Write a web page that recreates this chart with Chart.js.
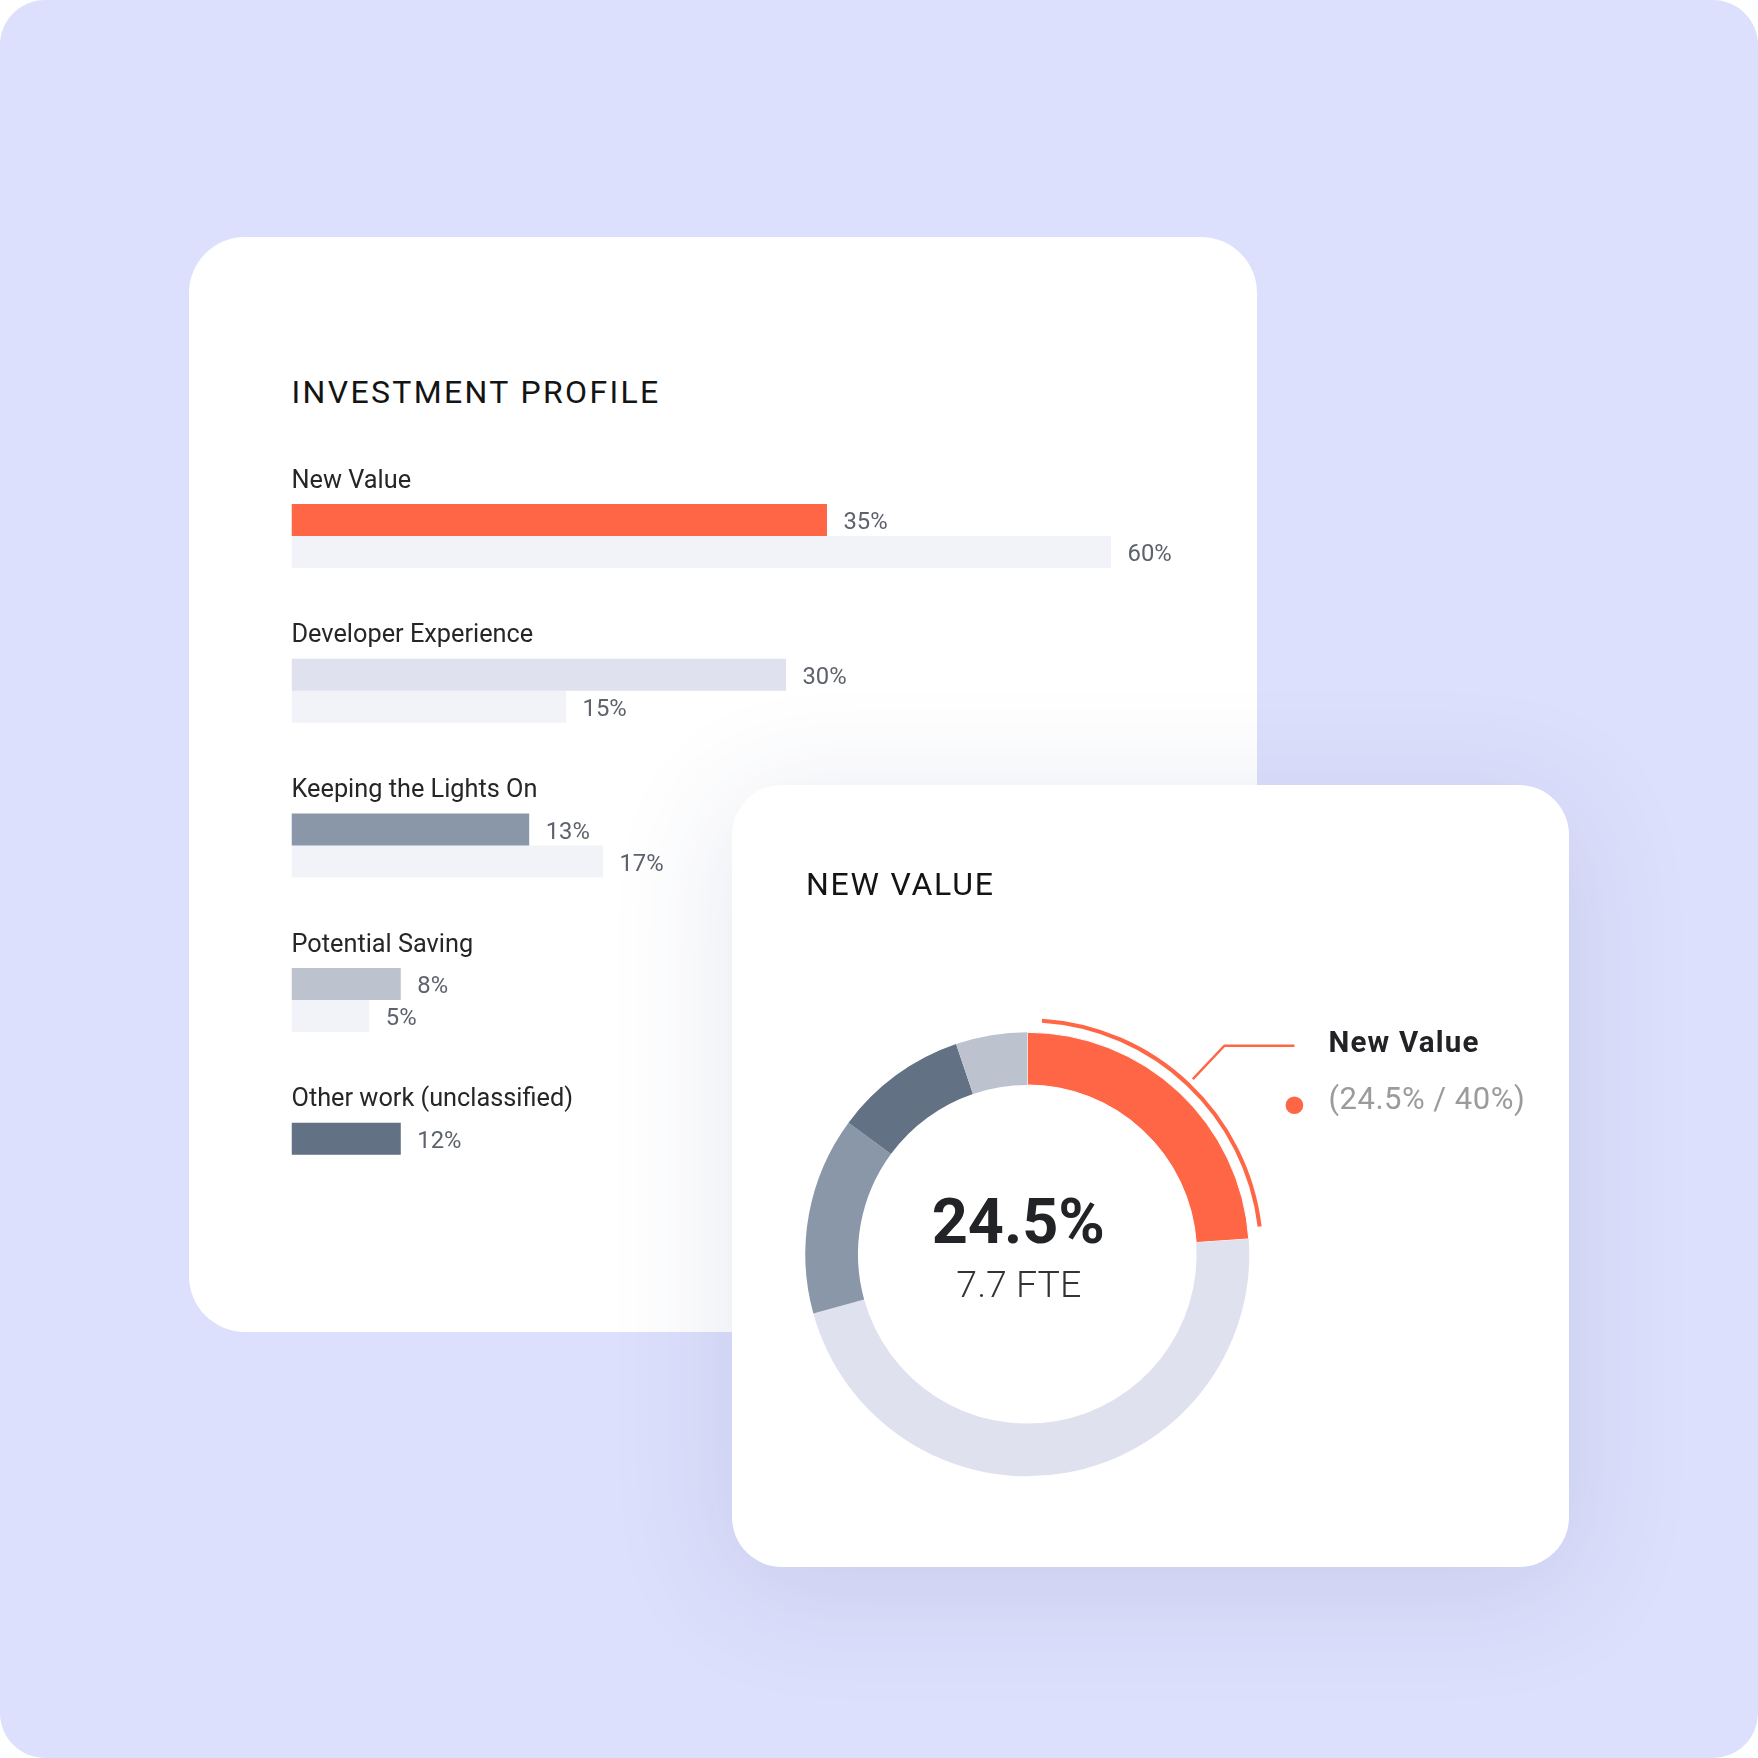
<!DOCTYPE html>
<html>
<head>
<meta charset="utf-8">
<script src="https://cdn.jsdelivr.net/npm/chart.js@4.4.1/dist/chart.umd.min.js"></script>
<style>
  html, body { margin: 0; padding: 0; background: #fff; }
  body { width: 1758px; height: 1758px; position: relative; overflow: hidden; font-family: Roboto, sans-serif; }
  #bg { position: absolute; left: 0; top: 0; width: 1758px; height: 1758px; border-radius: 45px; background: #dde0fc; }
  .card { position: absolute; background: #fff; }
  #card1 { left: 189px; top: 237px; width: 1068px; height: 1095px; border-radius: 56px; }
  #card2 { left: 732px; top: 785px; width: 837px; height: 782px; border-radius: 50px;
           box-shadow: 0 20px 120px 10px rgba(50, 60, 130, 0.11); }
  .title { position: absolute; font-size: 32px; line-height: 32px; color: #141414; white-space: nowrap; }
  #t1 { left: 102.5px; top: 138.8px; letter-spacing: 2.35px; }
  #t2 { left: 73.9px; top: 83.1px; letter-spacing: 1.8px; }
  canvas { position: absolute; }
  #barCanvas { left: 91px; top: 203px; }
  #donutCanvas { left: 0; top: 0; }
</style>
</head>
<body>
<div id="bg"></div>
<div class="card" id="card1">
  <div class="title" id="t1">INVESTMENT PROFILE</div>
  <canvas id="barCanvas" width="900" height="820"></canvas>
</div>
<div class="card" id="card2">
  <div class="title" id="t2">NEW VALUE</div>
  <canvas id="donutCanvas" width="837" height="782"></canvas>
</div>

<script>
// --- investment profile (bars) ---
const categories = ['New Value', 'Developer Experience', 'Keeping the Lights On', 'Potential Saving', 'Other work (unclassified)'];
// bar lengths as drawn in the picture (it does not keep them to scale)
const actualLengths = [39.2, 36.2, 17.4, 8.0, 8.0];
const targetLengths = [60, 20.1, 22.8, 5.7, null];
const actualLabels = ['35%', '30%', '13%', '8%', '12%'];
const targetLabels = ['60%', '15%', '17%', '5%', null];
const actualColors = ['#ff6645', '#dfe2ee', '#8997a8', '#bcc3cf', '#627184'];
const targetColor = '#f2f3f8';

// --- new value (doughnut) ---
const shareLabels = ['New Value', 'Developer Experience', 'Keeping the Lights On', 'Other work (unclassified)', 'Potential Saving'];
const shareValues = [23.9, 46.8, 14.4, 9.7, 5.2];
const shareColors = ['#ff6645', '#dfe2ee', '#8997a8', '#627184', '#bcc3cf'];
const highlightArc = [1, 22.1, 76.9]; // thin orange arc around the New Value slice
const centerValue = '24.5%';
const centerSub = '7.7 FTE';
const legendName = 'New Value';
const legendDetail = '(24.5% / 40%)';

// labels above and after the bars
const barText = {
  id: 'barText',
  afterDatasetsDraw(chart) {
    const ctx = chart.ctx;
    ctx.save();
    ctx.textAlign = 'left';
    ctx.textBaseline = 'alphabetic';
    ctx.font = '25.3px Roboto';
    ctx.fillStyle = '#262626';
    chart.getDatasetMeta(0).data.forEach((bar, i) => {
      ctx.fillText(categories[i], bar.base, bar.y - bar.height / 2 - 16.5);
    });
    ctx.font = '23.8px Roboto';
    ctx.fillStyle = '#5d626c';
    [actualLabels, targetLabels].forEach((labels, d) => {
      chart.getDatasetMeta(d).data.forEach((bar, i) => {
        if (labels[i] == null) return;
        ctx.fillText(labels[i], bar.x + 16.5, bar.y + 9.3);
      });
    });
    ctx.restore();
  }
};

new Chart(document.getElementById('barCanvas'), {
  type: 'bar',
  data: {
    labels: categories,
    datasets: [
      { data: actualLengths, backgroundColor: actualColors, categoryPercentage: 0.4137, barPercentage: 1 },
      { data: targetLengths, backgroundColor: targetColor, categoryPercentage: 0.4137, barPercentage: 1 }
    ]
  },
  options: {
    indexAxis: 'y',
    responsive: false,
    animation: false,
    events: [],
    layout: { padding: { left: 11.5, right: 68.9, top: 18.65, bottom: 27.85 } },
    scales: {
      x: { display: false, min: 0, max: 60 },
      y: { display: false }
    },
    plugins: { legend: { display: false }, tooltip: { enabled: false } }
  },
  plugins: [barText]
});

// center text, leader line and legend of the doughnut
const donutText = {
  id: 'donutText',
  afterDraw(chart) {
    const ctx = chart.ctx;
    const arc = chart.getDatasetMeta(0).data[1];
    const cx = arc.x, cy = arc.y;
    ctx.save();
    ctx.textAlign = 'center';
    ctx.textBaseline = 'alphabetic';
    ctx.fillStyle = '#222326';
    ctx.font = 'bold 63px Roboto';
    ctx.fillText(centerValue, cx - 9, cy - 11.6);
    ctx.font = '300 37.5px Roboto';
    ctx.fillStyle = '#333';
    ctx.fillText(centerSub, cx - 8.5, cy + 42.4);

    const mid = (arc.startAngle + arc.endAngle) / 2;
    const r0 = arc.outerRadius + 5;
    const x0 = cx + Math.cos(mid) * r0, y0 = cy + Math.sin(mid) * r0;
    const x1 = x0 + Math.cos(mid) * 46, y1 = y0 + Math.sin(mid) * 46;
    const x2 = x1 + 70;
    ctx.strokeStyle = '#ff6645';
    ctx.lineWidth = 2.4;
    ctx.beginPath();
    ctx.moveTo(x0, y0);
    ctx.lineTo(x1, y1);
    ctx.lineTo(x2, y1);
    ctx.stroke();

    ctx.textAlign = 'left';
    ctx.fillStyle = '#222326';
    ctx.font = 'bold 29.5px Roboto';
    ctx.letterSpacing = '1.2px';
    ctx.fillText(legendName, x2 + 34, y1 + 6.5);
    ctx.fillStyle = '#ff6645';
    ctx.beginPath();
    ctx.arc(x2, y1 + 59.5, 8.8, 0, Math.PI * 2);
    ctx.fill();
    ctx.fillStyle = '#9b9b9b';
    ctx.font = '31px Roboto';
    ctx.letterSpacing = '0.5px';
    ctx.fillText(legendDetail, x2 + 34, y1 + 63);
    ctx.restore();
  }
};

new Chart(document.getElementById('donutCanvas'), {
  type: 'doughnut',
  data: {
    labels: shareLabels,
    datasets: [
      { data: highlightArc, backgroundColor: ['rgba(0,0,0,0)', '#ff6645', 'rgba(0,0,0,0)'], borderWidth: 0, weight: 4 },
      { data: [1], backgroundColor: 'rgba(0,0,0,0)', borderWidth: 0, weight: 10 },
      { data: shareValues, backgroundColor: shareColors, borderColor: '#fff', borderWidth: [1, 0, 0, 0, 0], weight: 52.7 }
    ]
  },
  options: {
    responsive: false,
    animation: false,
    events: [],
    radius: 236,
    cutout: '71.74%',
    layout: { padding: { left: 55.3, right: 301.7, top: 229.3, bottom: 72.7 } },
    plugins: { legend: { display: false }, tooltip: { enabled: false } }
  },
  plugins: [donutText]
});
</script>
</body>
</html>
